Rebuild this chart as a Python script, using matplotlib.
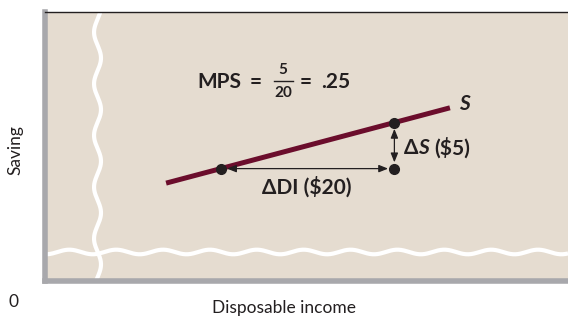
import numpy as np
import matplotlib
matplotlib.use("Agg")
import matplotlib.pyplot as plt

# ---- data ----
di_points = [20, 40]          # disposable income at the two points
saving_points = [12, 17]      # saving at the two points
line_di = [13.7, 46.4]        # extent of the saving schedule S
intercept = 7.0
mps = 0.25
line_saving = [intercept + mps * d for d in line_di]

W, H = 568, 320
fig = plt.figure(figsize=(W / 100, H / 100), dpi=100)
fig.patch.set_facecolor("white")

BEIGE = "#E5DCD0"
MAROON = "#6B0D2C"
GRAY = "#A8A8AC"
INK = "#231F20"
FONT = "Lato"

left_px, right_px, top_px, bot_px = 45, 568, 12, 281
ax = fig.add_axes([left_px / W, 1 - bot_px / H, (right_px - left_px) / W, (bot_px - top_px) / H])
ax.set_xlim(-0.25, 60)
ax.set_ylim(-0.2, 29)
ax.set_facecolor(BEIGE)
ax.set_xticks([])
ax.set_yticks([])
ax.spines["right"].set_visible(False)
ax.spines["top"].set_color(INK)
ax.spines["top"].set_linewidth(1.0)
ax.spines["left"].set_color(GRAY)
ax.spines["left"].set_linewidth(4)
ax.spines["bottom"].set_color(GRAY)
ax.spines["bottom"].set_linewidth(4)

# decorative axis-break waves
yy = np.linspace(-0.2, 29, 400)
xv = 5.8 + 0.4 * np.sin(2 * np.pi * (yy - 0.2) / 5.6)
ax.plot(xv, yy, color="white", lw=3.0, solid_capstyle="butt", zorder=2)
xx = np.linspace(-0.25, 60, 600)
yv = 2.95 + 0.25 * np.sin(2 * np.pi * (xx - 1.2) / 5.4)
ax.plot(xx, yv, color="white", lw=3.0, solid_capstyle="butt", zorder=2)

# saving schedule
ax.plot(line_di, line_saving, color=MAROON, lw=3.6, solid_capstyle="butt", zorder=3)
ax.plot(di_points, saving_points, "o", color=INK, ms=7, zorder=5, linestyle="none")
ax.plot([di_points[1]], [saving_points[0]], "o", color=INK, ms=7, zorder=5)

arrow = dict(arrowstyle="<|-|>,head_length=0.55,head_width=0.22", color=INK, lw=0.9,
             shrinkA=4.5, shrinkB=4.5)
ax.annotate("", xy=(di_points[1], saving_points[0]), xytext=(di_points[0], saving_points[0]),
            arrowprops=arrow, zorder=4)
ax.annotate("", xy=(di_points[1], saving_points[1]), xytext=(di_points[1], saving_points[0]),
            arrowprops=arrow, zorder=4)

def ptext(x, y, s, **kw):
    fig.text(x / W, 1 - y / H, s, family=FONT, color=INK, **kw)

BS = 15
ptext(464, 104, "S", fontsize=BS, weight="bold", style="italic", ha="center", va="center")
ptext(404, 148, "Δ", fontsize=BS, weight="bold", ha="left", va="center")
ptext(418, 148, "S", fontsize=BS, weight="bold", style="italic", ha="left", va="center")
ptext(434, 148, "($5)", fontsize=BS, weight="bold", ha="left", va="center")
ptext(307, 187, "ΔDI ($20)", fontsize=BS, weight="bold", ha="center", va="center")

ptext(197, 88, "MPS", fontsize=BS, weight="bold", ha="left", va="baseline")
ptext(256, 88, "=", fontsize=BS, weight="bold", ha="center", va="baseline")
ptext(283, 74, "5", fontsize=11, weight="bold", ha="center", va="baseline")
ptext(283, 97, "20", fontsize=11, weight="bold", ha="center", va="baseline")
fig.add_artist(plt.Line2D([274 / W, 293 / W], [1 - 81 / H, 1 - 81 / H], color=INK, lw=1.0))
ptext(306, 88, "=", fontsize=BS, weight="bold", ha="center", va="baseline")
ptext(350, 88, ".25", fontsize=BS, weight="bold", ha="right", va="baseline")

ptext(15, 150, "Saving", fontsize=12.5, rotation=90, ha="center", va="center")
ptext(14, 307, "0", fontsize=12.5, ha="center", va="baseline")
ptext(284, 313, "Disposable income", fontsize=12.5, ha="center", va="baseline")

fig.savefig("out.png", dpi=100, facecolor="white")
